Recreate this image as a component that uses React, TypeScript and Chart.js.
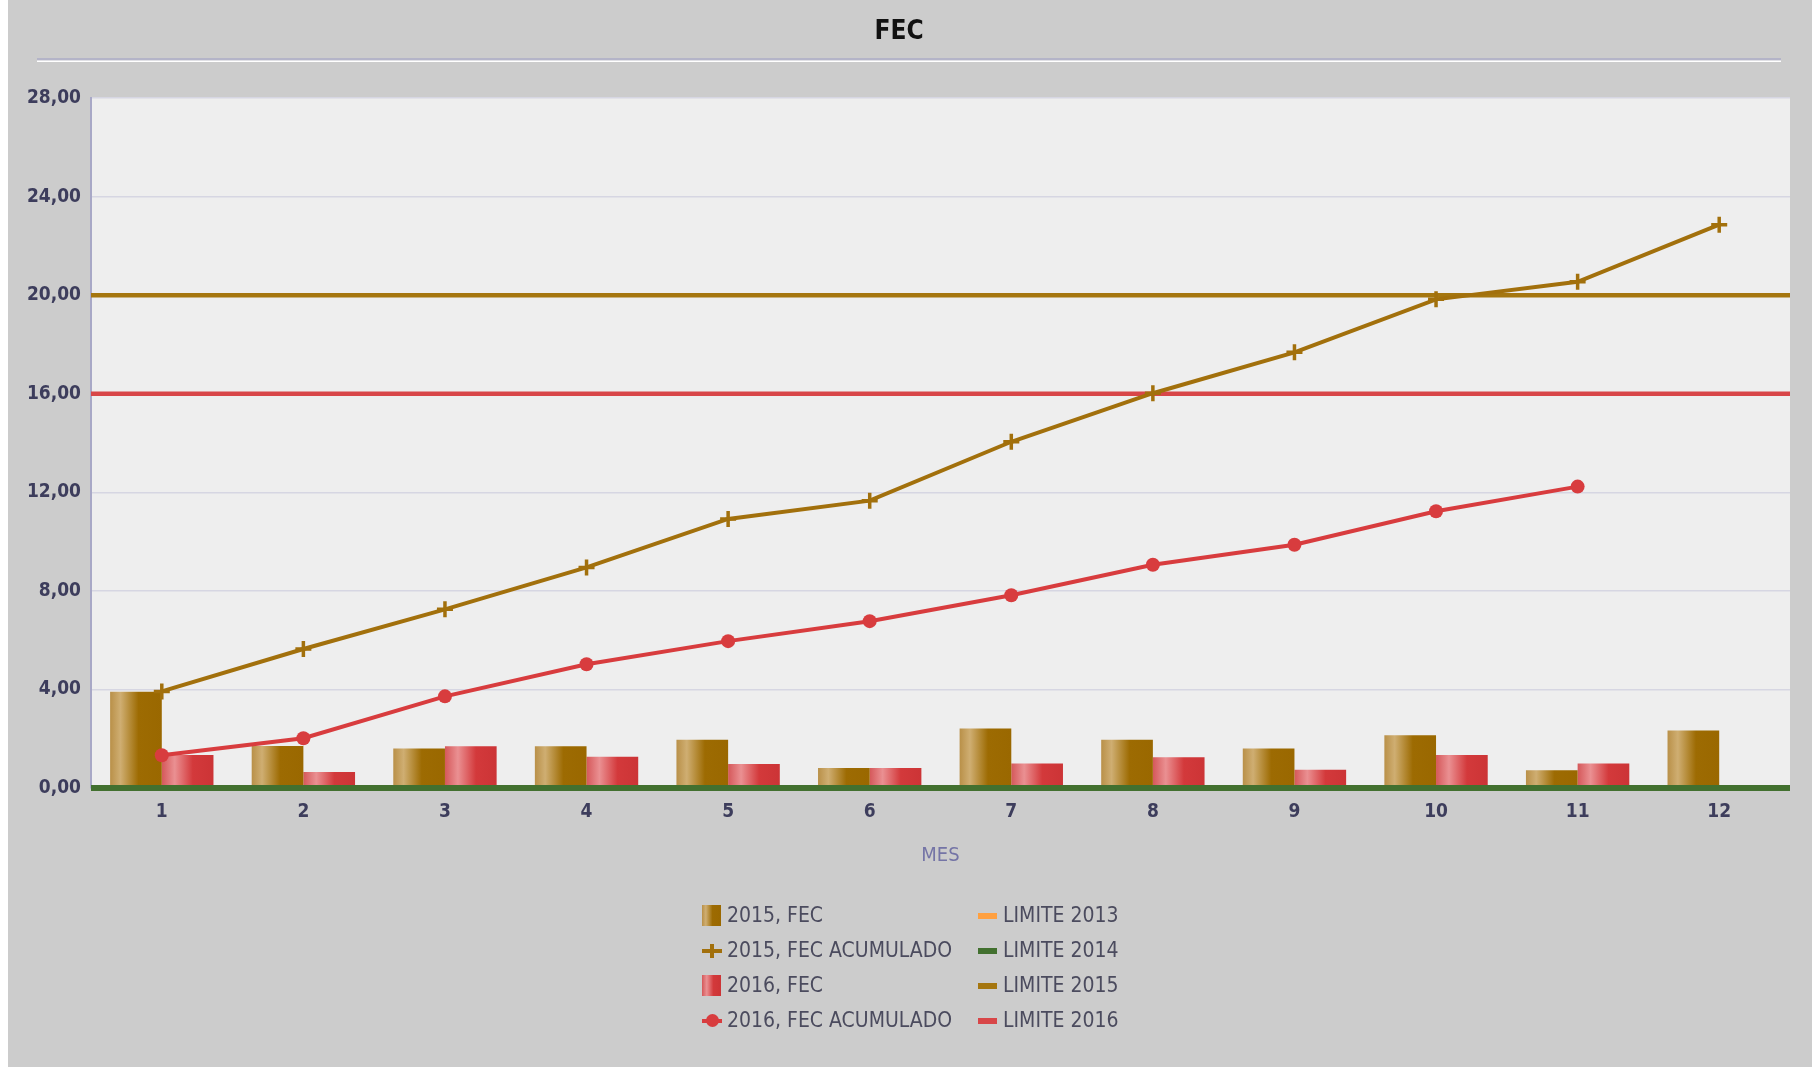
import React, { useEffect, useRef } from 'react';
import { Chart, registerables } from 'chart.js';

Chart.register(...registerables);

// ---------- DATA ----------
const CHART_TITLE = 'FEC';
const X_TITLE = 'MES';
const MONTHS = ['1', '2', '3', '4', '5', '6', '7', '8', '9', '10', '11', '12'];
const FEC_2015 = [3.91, 1.7, 1.6, 1.69, 1.96, 0.81, 2.41, 1.96, 1.6, 2.14, 0.72, 2.33];
const FEC_ACUM_2015 = [3.92, 5.64, 7.25, 8.95, 10.92, 11.66, 14.05, 16.02, 17.68, 19.83, 20.54, 22.86];
const FEC_2016 = [1.34, 0.65, 1.69, 1.27, 0.97, 0.81, 0.99, 1.25, 0.74, 1.34, 0.99, null];
const FEC_ACUM_2016 = [1.33, 2.02, 3.72, 5.02, 5.96, 6.77, 7.82, 9.06, 9.87, 11.23, 12.23, null];
const SERIES_LABELS = ['2015, FEC', '2015, FEC ACUMULADO', '2016, FEC', '2016, FEC ACUMULADO'];
const LIMIT_LABELS = ['LIMITE 2013', 'LIMITE 2014', 'LIMITE 2015', 'LIMITE 2016'];
const LIMIT_VALUES = [0, 0, 20, 16];
const X_RANGE = [0.5, 12.5];
const Y_TICK_VALUES = [0, 4, 8, 12, 16, 20, 24, 28];
const Y_TICK_LABELS = ['0,00', '4,00', '8,00', '12,00', '16,00', '20,00', '24,00', '28,00'];

// ---------- STYLE ----------
const FONT = "'DejaVu Sans Condensed', 'DejaVu Sans', sans-serif";
const BROWN = '#a2700c';
const RED = '#d83c3e';
const LIMIT_COLORS = ['#ffa040', '#42702f', '#a5760f', '#d84648'];
const BROWN_STOPS: [number, string][] = [[0, '#b99048'], [0.2, '#cfae72'], [0.55, '#9d6b02'], [1, '#9a6800']];
const RED_STOPS: [number, string][] = [[0, '#d5585a'], [0.25, '#ea9092'], [0.6, '#d3393b'], [1, '#cc3436']];
const CAT_PCT = 0.73;

const cssGrad = (stops: [number, string][]) =>
  `linear-gradient(to right, ${stops.map(([o, c]) => `${c} ${o * 100}%`).join(', ')})`;

const barGradient = (stops: [number, string][], side: number) => (ctx: any) => {
  const chart = ctx.chart;
  const xs = chart.scales && chart.scales.x;
  if (!xs || ctx.dataIndex == null || !isFinite(xs.width)) return stops[2][1];
  const center = xs.getPixelForValue(Number(MONTHS[ctx.dataIndex]));
  const bw = (xs.width / MONTHS.length) * CAT_PCT / 2;
  const left = side < 0 ? center - bw : center;
  const g = chart.ctx.createLinearGradient(left, 0, left + bw, 0);
  stops.forEach(([o, c]) => g.addColorStop(o, c));
  return g;
};

const decorPlugin = {
  id: 'decor',
  beforeDraw(chart: any) {
    const { ctx, chartArea } = chart;
    ctx.save();
    ctx.fillStyle = '#eeeeee';
    ctx.fillRect(chartArea.left, chartArea.top, chartArea.right - chartArea.left, chartArea.bottom - chartArea.top);
    ctx.fillStyle = '#b4b4c8';
    ctx.fillRect(29, 58, 1744, 2.5);
    ctx.fillStyle = '#ffffff';
    ctx.fillRect(29, 60.5, 1744, 1.5);
    ctx.restore();
  },
};

export default function App() {
  const canvasRef = useRef<HTMLCanvasElement | null>(null);

  useEffect(() => {
    if (!canvasRef.current) return;
    const limitDatasets = LIMIT_LABELS.map((label, i) => ({
      type: 'line' as const,
      label,
      data: X_RANGE.map((x) => ({ x, y: LIMIT_VALUES[i] })),
      borderColor: LIMIT_COLORS[i],
      backgroundColor: LIMIT_COLORS[i],
      borderWidth: i === 1 ? 6 : 4.5,
      pointRadius: 0,
      clip: 6,
      order: [5, 2, 3, 4][i],
    }));

    const chart = new Chart(canvasRef.current, {
      type: 'bar',
      data: {
        labels: MONTHS,
        datasets: [
          {
            type: 'bar',
            label: SERIES_LABELS[0],
            data: FEC_2015,
            backgroundColor: barGradient(BROWN_STOPS, -1),
            borderWidth: 0,
            categoryPercentage: CAT_PCT,
            barPercentage: 1,
            order: 6,
          },
          {
            type: 'bar',
            label: SERIES_LABELS[2],
            data: FEC_2016,
            backgroundColor: barGradient(RED_STOPS, 1),
            borderWidth: 0,
            categoryPercentage: CAT_PCT,
            barPercentage: 1,
            order: 7,
          },
          {
            type: 'line',
            label: SERIES_LABELS[1],
            data: FEC_ACUM_2015,
            borderColor: BROWN,
            backgroundColor: BROWN,
            borderWidth: 4,
            tension: 0,
            pointStyle: 'cross',
            pointRadius: 8,
            pointBorderWidth: 3.5,
            pointBorderColor: BROWN,
            order: 0,
          },
          {
            type: 'line',
            label: SERIES_LABELS[3],
            data: FEC_ACUM_2016,
            borderColor: RED,
            backgroundColor: RED,
            borderWidth: 4,
            tension: 0,
            pointStyle: 'circle',
            pointRadius: 7,
            pointBorderWidth: 0,
            pointBackgroundColor: RED,
            order: 1,
          },
          ...limitDatasets,
        ] as any,
      },
      options: {
        animation: false,
        responsive: false,
        maintainAspectRatio: false,
        layout: { padding: { left: 0, right: 22, top: 0, bottom: 189 } },
        plugins: {
          legend: { display: false },
          tooltip: { enabled: false },
          title: {
            display: true,
            text: CHART_TITLE,
            color: '#111111',
            font: { family: FONT, size: 26, weight: 'bold', lineHeight: 1.2 },
            padding: { top: 16.4, bottom: 50.4 },
          },
        },
        scales: {
          x: {
            type: 'linear',
            min: X_RANGE[0],
            max: X_RANGE[1],
            offset: false,
            afterBuildTicks: (s: any) => { s.ticks = MONTHS.map((m) => ({ value: Number(m) })); },
            grid: { display: false, drawTicks: false },
            border: { display: false },
            ticks: {
              color: '#3d3d5c',
              padding: 12.6,
              font: { family: FONT, size: 19, weight: 'bold', lineHeight: 1.2 },
              callback: (v: any) => {
                const i = MONTHS.indexOf(String(v));
                return i >= 0 ? MONTHS[i] : '';
              },
            },
            title: {
              display: true,
              text: X_TITLE,
              color: '#7474a6',
              font: { family: FONT, size: 20, lineHeight: 1.2 },
              padding: { top: 0, bottom: 10 },
            },
            afterFit: (s: any) => { s.height = 90; },
          },
          y: {
            type: 'linear',
            min: 0,
            max: 28,
            afterBuildTicks: (s: any) => { s.ticks = Y_TICK_VALUES.map((v) => ({ value: v })); },
            grid: { color: '#d6d6e2', lineWidth: 1.5, drawTicks: false },
            border: { display: true, color: '#a8a8c6', width: 2 },
            ticks: {
              color: '#3d3d5c',
              padding: 10,
              font: { family: FONT, size: 19, weight: 'bold', lineHeight: 1.2 },
              callback: (v: any) => {
                const i = Y_TICK_VALUES.indexOf(Number(v));
                return i >= 0 ? Y_TICK_LABELS[i] : '';
              },
            },
            afterFit: (s: any) => { s.width = 83; },
          },
        },
      } as any,
      plugins: [decorPlugin],
    });
    return () => chart.destroy();
  }, []);

  const textStyle: React.CSSProperties = {
    fontFamily: FONT,
    fontSize: 21,
    color: '#4b4b5e',
    whiteSpace: 'nowrap',
    lineHeight: '35px',
  };
  const row: React.CSSProperties = { height: 35, display: 'flex', alignItems: 'center' };

  const barSym = (stops: [number, string][]) => (
    <div style={{ width: 19, height: 21, background: cssGrad(stops), marginRight: 6, flex: 'none' }} />
  );
  const crossSym = (
    <div style={{ position: 'relative', width: 20, height: 14, marginRight: 5, flex: 'none' }}>
      <div style={{ position: 'absolute', left: 0, top: 5, width: 20, height: 4, background: BROWN }} />
      <div style={{ position: 'absolute', left: 8, top: 0, width: 4, height: 14, background: BROWN }} />
    </div>
  );
  const circleSym = (
    <div style={{ position: 'relative', width: 20, height: 14, marginRight: 5, flex: 'none' }}>
      <div style={{ position: 'absolute', left: 0, top: 5, width: 20, height: 4, background: RED }} />
      <div style={{ position: 'absolute', left: 4, top: 0, width: 13, height: 13, borderRadius: '50%', background: RED }} />
    </div>
  );
  const lineSym = (c: string) => (
    <div style={{ width: 19, height: 6, background: c, marginRight: 6, flex: 'none' }} />
  );
  const seriesSyms = [barSym(BROWN_STOPS), crossSym, barSym(RED_STOPS), circleSym];

  return (
    <div style={{ position: 'absolute', left: 8, top: 0, width: 1804, height: 1067, background: '#cccccc', overflow: 'hidden' }}>
      <canvas ref={canvasRef} width={1804} height={1067} style={{ display: 'block', width: 1804, height: 1067 }} />
      <div style={{ position: 'absolute', left: 694, top: 898 }}>
        {SERIES_LABELS.map((l, i) => (
          <div key={l} style={row}>
            {seriesSyms[i]}
            <span style={textStyle}>{l}</span>
          </div>
        ))}
      </div>
      <div style={{ position: 'absolute', left: 970, top: 898 }}>
        {LIMIT_LABELS.map((l, i) => (
          <div key={l} style={row}>
            {lineSym(LIMIT_COLORS[i])}
            <span style={textStyle}>{l}</span>
          </div>
        ))}
      </div>
    </div>
  );
}
